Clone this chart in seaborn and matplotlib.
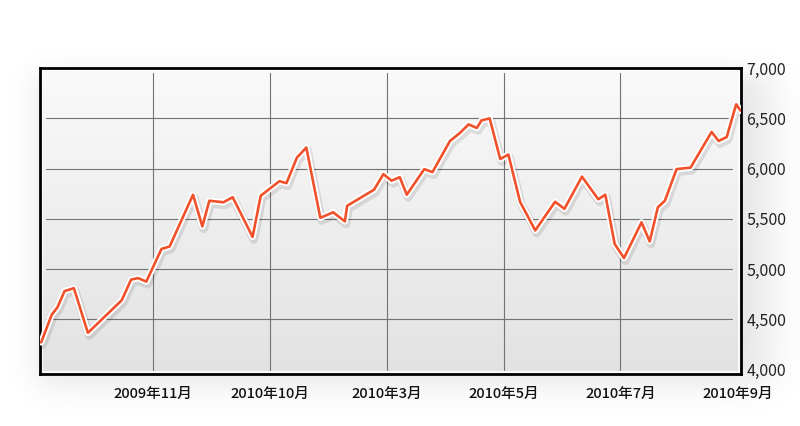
import numpy as np
import pandas as pd
import matplotlib.pyplot as plt
import matplotlib.patheffects as pe
from matplotlib.colors import LinearSegmentedColormap
from matplotlib.patches import Rectangle
import seaborn as sns

# x positions in "tick units" (tick labels sit at 1..6)
x_pos = [0.04, 0.13, 0.18, 0.24, 0.32, 0.44, 0.73, 0.81, 0.87, 0.94,
         1.07, 1.14, 1.34, 1.42, 1.48, 1.60, 1.68, 1.85, 1.92, 2.08,
         2.14, 2.23, 2.31, 2.43, 2.54, 2.64, 2.66, 2.89, 2.97, 3.04,
         3.11, 3.17, 3.32, 3.39, 3.54, 3.62, 3.70, 3.77, 3.81, 3.88,
         3.97, 4.04, 4.14, 4.27, 4.44, 4.52, 4.67, 4.81, 4.87, 4.95,
         5.03, 5.18, 5.25, 5.32, 5.38, 5.48, 5.60, 5.78, 5.84, 5.91,
         5.99, 6.03]
values = [4270, 4545, 4620, 4780, 4810, 4365, 4690, 4895, 4910, 4875,
          5200, 5225, 5740, 5425, 5680, 5665, 5715, 5320, 5730, 5875,
          5855, 6110, 6210, 5510, 5565, 5475, 5630, 5790, 5945, 5880,
          5915, 5740, 5995, 5965, 6275, 6350, 6440, 6405, 6480, 6500,
          6095, 6140, 5670, 5385, 5670, 5600, 5920, 5695, 5740, 5250,
          5110, 5465, 5275, 5615, 5680, 5995, 6010, 6365, 6275, 6315,
          6640, 6575]
tick_pos = [1, 2, 3, 4, 5, 6]
tick_labels = ["2009年11月", "2010年10月", "2010年3月", "2010年5月", "2010年7月", "2010年9月"]
y_ticks = [4000, 4500, 5000, 5500, 6000, 6500, 7000]

df = pd.DataFrame({"x": x_pos, "value": values})

sns.set_style("white")
plt.rcParams['font.family'] = ['Noto Sans CJK JP', 'DejaVu Sans']

W, H = 800, 426
fig = plt.figure(figsize=(8, 4.26), dpi=100)
fig.patch.set_facecolor("white")

# soft blurred shadow behind the chart box (pixel grid, top origin)
xx = np.arange(W)[None, :]
yy = np.arange(H)[:, None]
def soft(d, s):
    return 1.0 / (1.0 + np.exp(d / s))
sx = soft(36 - xx, 9) * soft(xx - 770, 12)
sy = soft(72 - yy, 8) * soft(yy - 384, 10)
shadow = np.zeros((H, W, 4))
shadow[..., 3] = 0.10 * sx * sy
fig.figimage(shadow, 0, 0, origin="upper", zorder=-10)

ax = fig.add_axes([0.05, 0.122, 0.876, 0.718])
ax.set_zorder(1)

# vertical gradient background
grad = np.linspace(0, 1, 256).reshape(-1, 1)
ax.imshow(grad, extent=[0, 1, 0, 1], transform=ax.transAxes, aspect="auto",
          cmap=LinearSegmentedColormap.from_list("bg", ["#e2e2e3", "#fafafa"]),
          origin="lower", zorder=0)
ax.add_patch(Rectangle((0.003, 0.005), 0.994, 0.99, transform=ax.transAxes,
                       fill=False, edgecolor="white", lw=1.2, zorder=1))

ax.set_xlim(0.03, 6.03)
ax.set_ylim(3955, 7000)

for y in y_ticks[1:-1]:
    ax.axhline(y, xmin=0.008, xmax=0.988, color="#727272", lw=0.8, zorder=1)
for x in tick_pos[:-1]:
    ax.axvline(x, ymin=0.012, ymax=0.985, color="#727272", lw=0.8, zorder=1)

sns.lineplot(data=df, x="x", y="value", ax=ax, color="#f0512a", lw=1.9, zorder=3,
             path_effects=[pe.SimpleLineShadow(offset=(1, -2), shadow_color="black", alpha=0.10, linewidth=6),
                           pe.Stroke(linewidth=4.6, foreground="white"), pe.Normal()])

ax.yaxis.tick_right()
ax.set_yticks(y_ticks)
ax.set_yticklabels([f"{v:,}" for v in y_ticks], fontsize=11.5, color="#222222")
ax.set_xticks(tick_pos)
ax.set_xticklabels(tick_labels, fontsize=10.5, color="#111111", fontweight="medium")
ax.tick_params(length=0, pad=4)
ax.tick_params(axis="x", pad=9)
ax.set_xlabel("")
ax.set_ylabel("")
for s in ax.spines.values():
    s.set_visible(True)
    s.set_color("black")
    s.set_linewidth(2)

fig.savefig("out.png", dpi=100, facecolor="white")
